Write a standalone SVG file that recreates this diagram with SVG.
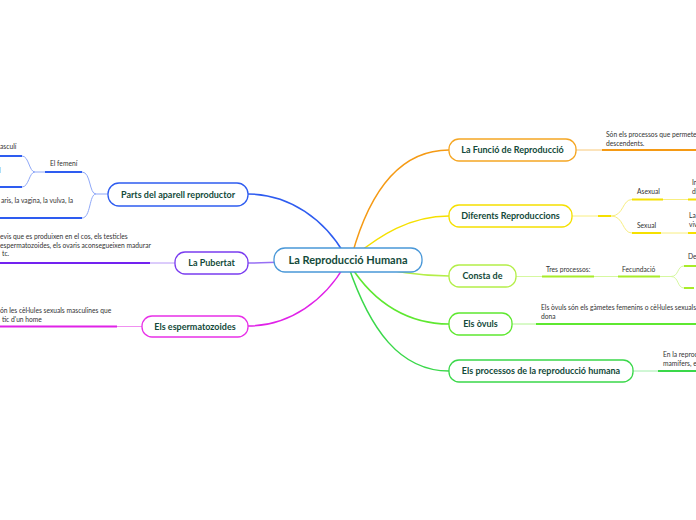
<svg xmlns="http://www.w3.org/2000/svg" width="696" height="520" viewBox="0 0 696 520">
<style>
.node{fill:#ffffff;stroke-width:1.3}
.lbl{font-family:Lato,"Open Sans",sans-serif;font-weight:bold;font-size:9px;fill:#134a3a;text-anchor:middle}
.c{font-family:Lato,"Open Sans",sans-serif;font-weight:bold;font-size:11px;fill:#134a3a;text-anchor:middle}
.t{font-family:Lato,"Open Sans",sans-serif;font-size:6.7px;fill:#333333}
.main{fill:none;stroke-width:1.5}
.thin{fill:none;stroke-width:1}
.thick{fill:none;stroke-width:2}
</style>
<rect width="696" height="520" fill="#ffffff"/>
<g id="connectors">
  <!-- main branches -->
  <path class="main" stroke="#f59a14" d="M352,255 C370,190 400,150 449,150"/>
  <path class="main" stroke="#f5e000" d="M352,258 C380,235 410,216 449,216"/>
  <path class="main" stroke="#b4ee48" d="M352,262 C395,272 420,276 449,276"/>
  <path class="main" stroke="#5ee830" d="M350,265 C375,305 410,324 449,324"/>
  <path class="main" stroke="#3ad84a" d="M348,265 C370,330 400,371 449,371"/>
  <path class="main" stroke="#2e5cf0" d="M345,255 C325,220 290,194 248,194"/>
  <path class="main" stroke="#9870f4" d="M348,260 C300,260 280,263 248,263"/>
  <path class="main" stroke="#e022e8" d="M345,265 C325,300 290,326 248,326"/>
  <!-- orange sub -->
  <path class="thin" stroke="#f8c878" d="M576,150 L602,150"/>
  <path class="thick" stroke="#f59a14" d="M602,150 L696,150"/>
  <!-- yellow sub -->
  <path class="thin" stroke="#f8ee80" d="M572,216 L598,216"/>
  <path class="thick" stroke="#f5e000" d="M598,216 L611,216"/>
  <path class="thin" stroke="#f8ee80" d="M611,216 C624,216 622,199.5 632,199.5 M611,216 C624,216 622,233 632,233"/>
  <path class="thick" stroke="#f5e000" d="M632,199.5 L663,199.5 M632,233 L661,233"/>
  <path class="thin" stroke="#f8ee80" d="M663,199.5 L688,199.5 M661,233 L688,233"/>
  <path class="thick" stroke="#f5e000" d="M688,199.5 L696,199.5 M688,233 L696,233"/>
  <!-- lime sub -->
  <path class="thin" stroke="#d6f8a0" d="M516,276.5 L542,276.5 M594,276.5 L618,276.5 M660,276.5 L671,276.5 C679,276.5 677,266 684,266 M671,276.5 C679,276.5 677,288 684,288"/>
  <path class="thick" stroke="#a8ec28" d="M542,276.5 L594,276.5 M618,276.5 L660,276.5 M684,266 L696,266 M684,288 L694,288"/>
  <!-- green ovuls sub -->
  <path class="thin" stroke="#b0f490" d="M512,324 L536,324"/>
  <path class="thick" stroke="#5ee830" d="M536,324 L696,324"/>
  <!-- green processos sub -->
  <path class="thin" stroke="#a0eeaa" d="M633,371 L658,371"/>
  <path class="thick" stroke="#3ad84a" d="M658,371 L696,371"/>
  <!-- blue sub -->
  <path class="thin" stroke="#8fa8f8" d="M108,194 L96,194 C89,194 91,172 82,172 M96,194 C89,194 91,218 82,218"/>
  <path class="thick" stroke="#2e5cf0" d="M45,172 L82,172 M0,218 L82,218"/>
  <path class="thin" stroke="#8fa8f8" d="M45,172 L35,172 C29,172 29,156 22,156 M35,172 C29,172 29,187 22,187"/>
  <path class="thick" stroke="#2e5cf0" d="M0,156 L22,156 M0,187 L22,187"/>
  <!-- purple sub -->
  <path class="thin" stroke="#b898f8" d="M175,263 L150,263"/>
  <path class="thick" stroke="#7322f0" d="M0,263 L150,263"/>
  <!-- magenta sub -->
  <path class="thin" stroke="#f090f0" d="M142,326.5 L117,326.5"/>
  <path class="thick" stroke="#e022e8" d="M0,326.5 L117,326.5"/>
</g>
<g id="center">
  <rect class="node" x="274" y="248" width="148" height="24" rx="11" stroke="#4a98d8"/>
  <text class="c" x="348" y="264">La Reproducció Humana</text>
</g>
<g id="funcio">
  <rect class="node" x="449" y="139" width="127" height="22" rx="10" stroke="#f5a623"/>
  <text class="lbl" x="512.5" y="153.3">La Funció de Reproducció</text>
  <text class="t" x="606" y="137">Són els processos que permeten</text>
  <text class="t" x="606" y="145.5">descendents.</text>
</g>
<g id="diferents">
  <rect class="node" x="449" y="205" width="123" height="22" rx="10" stroke="#f5e000"/>
  <text class="lbl" x="510.5" y="219.3">Diferents Reproduccions</text>
  <text class="t" x="637" y="194">Asexual</text>
  <text class="t" x="637" y="228">Sexual</text>
  <text class="t" x="692" y="185">In</text>
  <text class="t" x="692" y="194">di</text>
  <text class="t" x="689" y="218">La</text>
  <text class="t" x="689" y="227">viv</text>
</g>
<g id="consta">
  <rect class="node" x="449" y="265" width="67" height="22" rx="10" stroke="#b4ee48"/>
  <text class="lbl" x="482.5" y="279.3">Consta de</text>
  <text class="t" x="546" y="271.5">Tres processos:</text>
  <text class="t" x="622" y="271.5">Fecundació</text>
  <text class="t" x="688" y="259">De</text>
</g>
<g id="ovuls">
  <rect class="node" x="449" y="313" width="63" height="22" rx="10" stroke="#5ee830"/>
  <text class="lbl" x="480.5" y="327.3">Els òvuls</text>
  <text class="t" x="541" y="310">Els òvuls són els gàmetes femenins o cèl·lules sexuals de</text>
  <text class="t" x="541" y="319">dona</text>
</g>
<g id="processos">
  <rect class="node" x="449" y="360" width="184" height="22" rx="10" stroke="#3ad84a"/>
  <text class="lbl" x="541" y="374.3">Els processos de la reproducció humana</text>
  <text class="t" x="663" y="357">En la reproc</text>
  <text class="t" x="663" y="366">mamífers, e</text>
</g>
<g id="parts">
  <rect class="node" x="108" y="183" width="140" height="23" rx="11" stroke="#2e5cf0"/>
  <text class="lbl" x="178" y="197.8">Parts del aparell reproductor</text>
  <text class="t" x="50" y="165.5">El femení</text>
  <text class="t" x="0" y="149">asculí</text>
  <text class="t" x="-1" y="172.5">l</text>
  <text class="t" x="1" y="203">aris, la vagina, la vulva, la</text>
</g>
<g id="pubertat">
  <rect class="node" x="175" y="252" width="73" height="22" rx="10" stroke="#7a3cf0"/>
  <text class="lbl" x="211.5" y="266.3">La Pubertat</text>
  <text class="t" x="0" y="239">evis que es produixen en el cos, els testicles</text>
  <text class="t" x="0" y="247.5">espermatozoides, els ovaris aconsegueixen madurar</text>
  <text class="t" x="2" y="256">tc.</text>
</g>
<g id="espermatozoides">
  <rect class="node" x="142" y="316" width="106" height="21" rx="10" stroke="#e830e8"/>
  <text class="lbl" x="195" y="329.8">Els espermatozoides</text>
  <text class="t" x="0" y="313">ón les cèl·lules sexuals masculines que</text>
  <text class="t" x="2" y="321.5">tic d'un home</text>
</g>
</svg>
